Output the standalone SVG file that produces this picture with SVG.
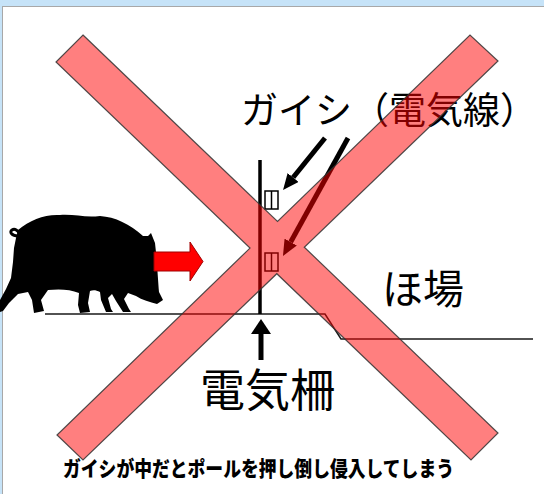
<svg xmlns="http://www.w3.org/2000/svg" width="544" height="494" viewBox="0 0 544 494">
  <style>
    .ja { font-family: "Noto Sans CJK JP", "Noto Sans", sans-serif; fill: #000; }
    .ground { fill: none; stroke: #1a1a1a; stroke-width: 1.5; }
    .pole { stroke: #000; stroke-width: 3.5; }
    .insulator rect { fill: #fff; stroke: #000; stroke-width: 1.5; }
    .insulator line { stroke: #000; stroke-width: 1.5; }
    .pointer { stroke: #000; stroke-width: 5; fill: none; }
  </style>
  <defs>
    <marker id="headThin" markerUnits="userSpaceOnUse" markerWidth="16" markerHeight="14" refX="0" refY="7" orient="auto">
      <path d="M0,0 L16,7 L0,14 Z" fill="#000"/>
    </marker>
    <marker id="headUp" markerUnits="userSpaceOnUse" markerWidth="15" markerHeight="20" refX="0" refY="10" orient="auto">
      <path d="M0,0 L15,10 L0,20 Z" fill="#000"/>
    </marker>
  </defs>

  <!-- window frame -->
  <rect x="0" y="0" width="544" height="494" fill="#c6e3f8"/>
  <rect x="2.5" y="6.5" width="560" height="500" fill="#fff" stroke="#a8a8a8" stroke-width="1"/>

  <!-- ground: outside / field level -->
  <g id="ground">
    <polyline class="ground" points="45,314 325,314 341,339 533,339"/>
  </g>

  <!-- fence post with insulators -->
  <g id="fence">
    <line class="pole" x1="260" y1="160" x2="260" y2="314"/>
    <g class="insulator" id="insulator-upper">
      <rect x="265" y="191" width="13" height="18"/>
      <line x1="271.5" y1="191" x2="271.5" y2="209"/>
    </g>
    <g class="insulator" id="insulator-lower">
      <rect x="265" y="253" width="13" height="18"/>
      <line x1="271.5" y1="253" x2="271.5" y2="271"/>
    </g>
  </g>

  <!-- wild boar -->
  <g id="boar">
    <path fill="#000" d="M18,230 C30,220 45,214 60,215 C75,214 85,218 100,216 C115,217 130,224 143,236
      L148,236 L151,233 L155,243 C157,260 158,280 159,292 L163,300 L157,304
      C150,302 142,300 136,296 L128,293 L124,299 L129,309 L131,312 L123,312 L116,301
      L112,294 L108,298 L111,309 L113,312 L106,312 L101,300 L100,292
      C96,290 93,290 90,291 L88,303 L90,312 L80,313 L78,305 L79,293
      C70,289 58,289 48,290 L41,300 L44,311 L34,313 L32,300 L28,292
      L18,294 L9,303 L3,311 L0,312 L0,300 L6,289 L11,278 L13,262 L14,248 L16,238 Z"/>
    <path fill="none" stroke="#000" stroke-width="3" d="M18,236 C12,236 9,232 12,230 C15,228 18,231 19,233"/>
  </g>

  <!-- movement arrow -->
  <g id="push-arrow">
    <path d="M154,252 H190 V242 L203,261.5 L190,281 V271 H154 Z" fill="#ff0000" stroke="#a00000" stroke-width="1"/>
  </g>

  <!-- labels -->
  <g id="label-insulator">
    <text class="ja" x="241" y="124" font-size="37">ガイシ（電気線）</text>
  </g>
  <g id="label-field">
    <text class="ja" x="382" y="304" font-size="41">ほ場</text>
  </g>
  <g id="label-fence">
    <text class="ja" x="200" y="407" font-size="45">電気柵</text>
  </g>
  <g id="caption">
    <text class="ja" x="63" y="476" font-size="21" font-weight="900" textLength="391" lengthAdjust="spacingAndGlyphs">ガイシが中だとポールを押し倒し侵入してしまう</text>
  </g>

  <!-- pointers -->
  <g id="connectors">
    <line class="pointer" x1="325" y1="138" x2="293.1" y2="177.5" marker-end="url(#headThin)"/>
    <line class="pointer" x1="348" y1="138" x2="290.7" y2="242" marker-end="url(#headThin)"/>
    <line class="pointer" x1="261" y1="360" x2="261" y2="334" stroke-width="7" marker-end="url(#headUp)"/>
  </g>

  <!-- cross-out mark -->
  <g id="cross">
    <polygon points="83,35 277.5,221.5 470,35 498,61 304.3,247.2 498,433 471,460 276.8,273.7 83,460 57,435 250,248.1 56,62"
      fill="#ff0000" fill-opacity="0.5" stroke="#333" stroke-opacity="0.85" stroke-width="1.2" stroke-linejoin="miter"/>
  </g>
</svg>
